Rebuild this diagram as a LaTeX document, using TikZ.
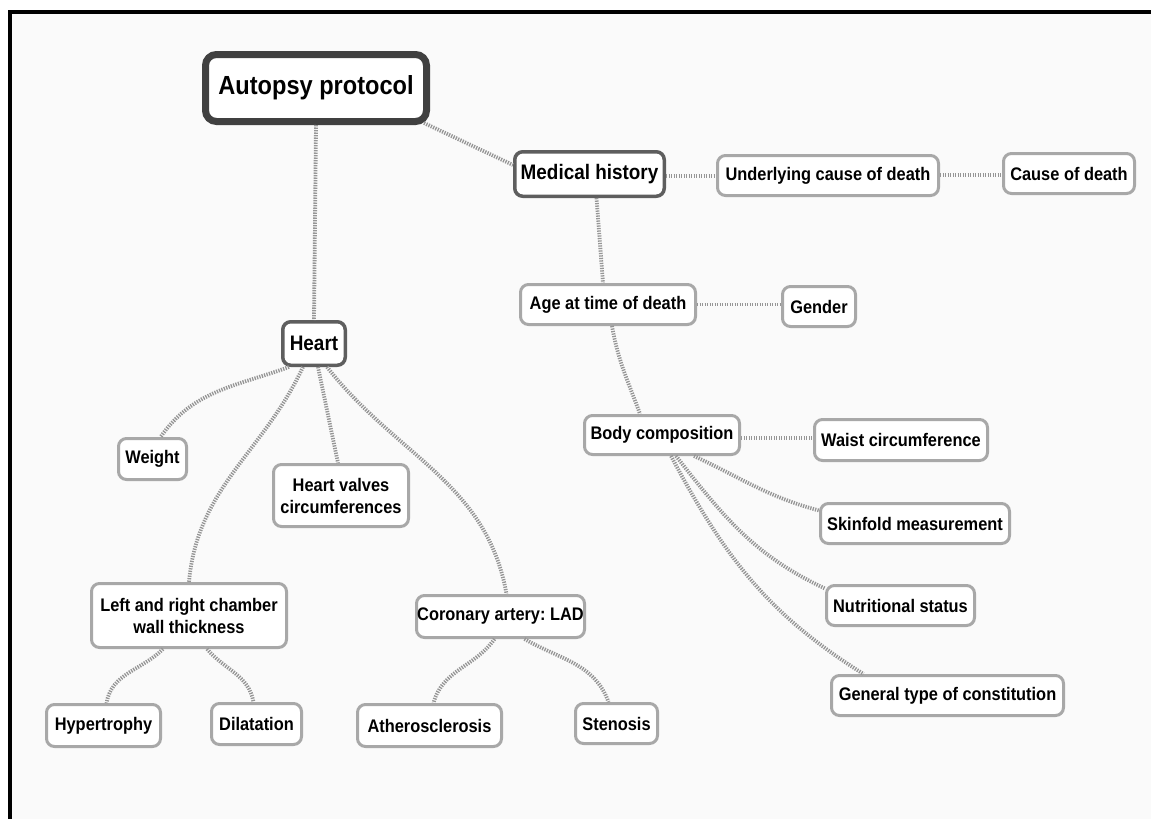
\documentclass[tikz,border=0pt]{standalone}
\usepackage{fontspec}
\setmainfont{Liberation Sans}[FakeStretch=0.9]
\definecolor{bgc}{HTML}{FAFAFA}
\definecolor{leafc}{HTML}{A8A8A8}
\definecolor{midc}{HTML}{5E5E5E}
\definecolor{rootc}{HTML}{404040}
\definecolor{linkc}{HTML}{959595}
\tikzset{
 box/.style={draw, rounded corners=8pt, fill=white, text=black, inner sep=0pt, align=center},
 leaf/.style={box, draw=leafc, line width=3pt, font=\fontsize{18.2}{22}\selectfont\bfseries},
 midbox/.style={box, draw=midc, line width=3.5pt, font=\fontsize{21}{24}\selectfont\bfseries},
 rootbox/.style={box, draw=rootc, line width=7pt, rounded corners=11pt, font=\fontsize{26.2}{30}\selectfont\bfseries},
 link/.style={draw=linkc, line width=3.8pt, dash pattern=on 1.3pt off 1.2pt},
}
\frenchspacing
\begin{document}
\frenchspacing
\begin{tikzpicture}[x=1pt,y=-1pt]
\useasboundingbox (0,0) rectangle (1151,819);
\fill[bgc] (10,12) rectangle (1151,819);
\draw[line width=4pt] (10,819) -- (10,12) -- (1151,12);

% nodes
\node[rootbox, minimum width=221pt, minimum height=67pt] (ap) at (316,88) {Autopsy protocol};
\node[midbox, minimum width=149.5pt, minimum height=44.5pt] (mh) at (589.5,174) {Medical history};
\node[leaf, minimum width=221pt, minimum height=40pt] (uc) at (828,175.5) {Underlying cause of death};
\node[leaf, minimum width=131pt, minimum height=40pt] (cd) at (1069,173.5) {Cause of death};
\node[leaf, minimum width=175pt, minimum height=40pt] (ag) at (608,304.5) {Age at time of death};
\node[leaf, minimum width=73pt, minimum height=40pt] (gd) at (819,306.5) {Gender};
\node[midbox, minimum width=62.5pt, minimum height=43.5pt] (ht) at (314,343.5) {Heart};
\node[leaf, minimum width=68pt, minimum height=41pt] (wt) at (152.5,459) {Weight};
\node[leaf, minimum width=135pt, minimum height=62pt] (hv) at (341,495.5) {Heart valves\\circumferences};
\node[leaf, minimum width=155pt, minimum height=39pt] (bc) at (662,435) {Body composition};
\node[leaf, minimum width=173pt, minimum height=41pt] (wc) at (901,440) {Waist circumference};
\node[leaf, minimum width=189pt, minimum height=40pt] (sm) at (915,523.5) {Skinfold measurement};
\node[leaf, minimum width=148pt, minimum height=40pt] (ns) at (900.5,605.5) {Nutritional status};
\node[leaf, minimum width=232pt, minimum height=40pt] (gt) at (947.5,695.5) {General type of constitution};
\node[leaf, minimum width=195pt, minimum height=64pt] (lr) at (189,615.5) {Left and right chamber\\wall thickness};
\node[leaf, minimum width=168pt, minimum height=42pt] (ca) at (500.5,616.5) {Coronary artery: LAD};
\node[leaf, minimum width=114pt, minimum height=42pt] (hy) at (103.5,725.5) {Hypertrophy};
\node[leaf, minimum width=90pt, minimum height=41pt] (dl) at (256.5,724) {Dilatation};
\node[leaf, minimum width=144pt, minimum height=42pt] (at) at (429.5,725.5) {Atherosclerosis};
\node[leaf, minimum width=82pt, minimum height=40pt] (st) at (616.5,723.5) {Stenosis};

% connectors
\draw[link] (ap.south) -- (ht.north);
\draw[link] ([xshift=-6pt,yshift=2pt]ap.south east) -- ([yshift=9pt]mh.west);
\draw[link] ([yshift=-2pt]mh.east) -- ([yshift=-2pt]mh.east -| uc.west);
\draw[link] ([yshift=-1.5pt]cd.west -| uc.east) -- ([yshift=-1.5pt]cd.west);
\draw[link] ([xshift=7pt]mh.south) -- ([xshift=-5pt]ag.north);
\draw[link] (ag.east) -- (ag.east -| gd.west);
\draw[link] ([xshift=4pt]ag.south) to[out=-80,in=110] ([xshift=-22pt]bc.north);
\draw[link] ([yshift=-3pt]bc.east) -- ([yshift=-3pt]bc.east -| wc.west);
\draw[link] ([xshift=32pt]bc.south) to[out=-25,in=165] ([yshift=13pt]sm.west);
\draw[link] ([xshift=14pt]bc.south) to[out=-52,in=155] ([yshift=17pt]ns.west);
\draw[link] ([xshift=9pt]bc.south) to[out=-62,in=148] ([xshift=-84pt]gt.north);
\draw[link] ([xshift=-25pt]ht.south) to[out=200,in=55] ([xshift=8pt]wt.north);
\draw[link] ([xshift=-11pt]ht.south) to[out=245,in=85] (lr.north);
\draw[link] ([xshift=4pt]ht.south) -- ([xshift=-3pt]hv.north);
\draw[link] ([xshift=13pt]ht.south) to[out=-52,in=100] ([xshift=6pt]ca.north);
\draw[link] ([xshift=-26pt]lr.south) to[out=225,in=80] ([xshift=3pt]hy.north);
\draw[link] ([xshift=18pt]lr.south) to[out=-50,in=100] ([xshift=-3pt]dl.north);
\draw[link] ([xshift=-6pt]ca.south) to[out=235,in=75] ([xshift=4pt]at.north);
\draw[link] ([xshift=24pt]ca.south) to[out=-30,in=110] ([xshift=-8pt]st.north);
\end{tikzpicture}
\end{document}
